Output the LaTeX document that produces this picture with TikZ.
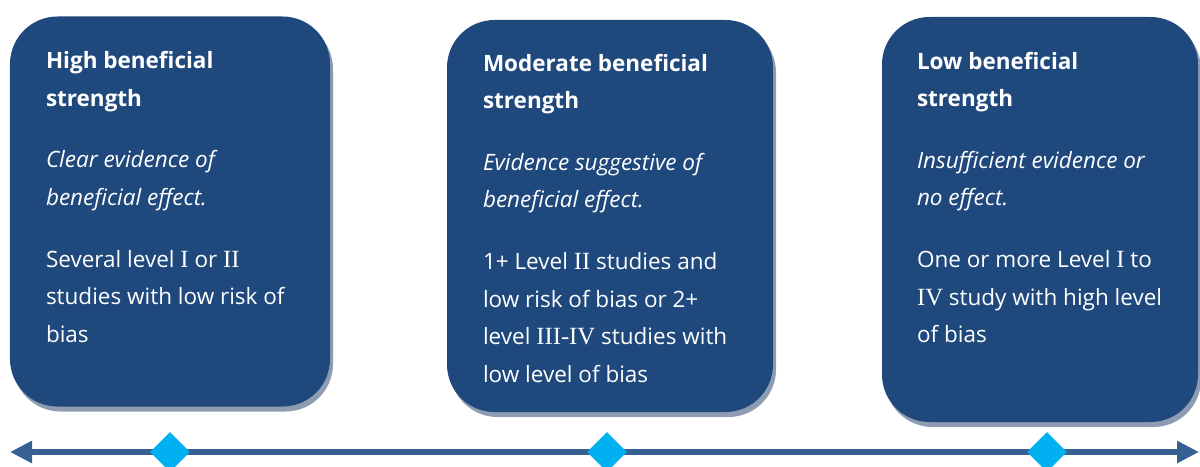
\documentclass[tikz,border=0pt]{standalone}
\usepackage{fontspec}
\setmainfont{Open Sans}
\newfontfamily\numfont[Scale=1.1]{Liberation Serif}
\usepackage{tikz}
\usetikzlibrary{shapes,arrows,positioning,shadows}
\usetikzlibrary{arrows.meta}
\definecolor{cardblue}{HTML}{1F497D}
\definecolor{cardshade}{HTML}{8D9CB1}
\definecolor{axisblue}{HTML}{366092}
\definecolor{marker}{HTML}{00B0F0}
\newcommand{\rnum}[1]{{\numfont #1}}
\tikzstyle{card} = [draw=none, fill=cardblue, rectangle, rounded corners=0.95cm,
  drop shadow={shadow xshift=0.06cm, shadow yshift=-0.1cm, fill=cardshade, opacity=1}]
\tikzstyle{cardtext} = [text=white, align=left, inner sep=0pt,
  font=\fontsize{12.8}{21.3}\selectfont]
\tikzstyle{line} = [draw=axisblue, line width=0.12cm,
  {Triangle[length=0.44cm,width=0.42cm]}-{Triangle[length=0.44cm,width=0.42cm]}]

\begin{document}
\begin{tikzpicture}

\tikzset{
    levelmark/.style={diamond, fill=marker, draw=none, minimum size=0.8cm, inner sep=0pt},
}

\useasboundingbox (0,0) rectangle (24,9.32);

  % the three cards
  \node [card, minimum width=6.4cm, minimum height=7.8cm] (high) at (3.4,5.09) {};
  \node [card, minimum width=6.52cm, minimum height=7.84cm] (moderate) at (12.2,5.0) {};
  \node [card, minimum width=6.32cm, minimum height=8.1cm] (low) at (20.8,4.93) {};

  \node [cardtext, below right=0.7cm and 0.72cm of high.north west] (hightext)
  {\textbf{High beneficial}\\ \textbf{strength}\\[13.9pt]
   \textit{Clear evidence of}\\ \textit{beneficial effect.}\\[13.9pt]
   Several level \rnum{I} or \rnum{II}\\ studies with low risk of\\ bias};

  \node [cardtext, below right=0.68cm and 0.72cm of moderate.north west] (moderatetext)
  {\textbf{Moderate beneficial}\\ \textbf{strength}\\[13.9pt]
   \textit{Evidence suggestive of}\\ \textit{beneficial effect.}\\[13.9pt]
   1+ Level \rnum{II} studies and\\ low risk of bias or 2+\\
   level \rnum{III-IV} studies with\\ low level of bias};

  \node [cardtext, below right=0.7cm and 0.7cm of low.north west] (lowtext)
  {\textbf{Low beneficial}\\ \textbf{strength}\\[13.9pt]
   \textit{Insufficient evidence or}\\ \textit{no effect.}\\[13.9pt]
   One or more Level \rnum{I} to\\ \rnum{IV} study with high level\\ of bias};

  % scale along the bottom
  \coordinate (axisL) at (0.2,0.28);
  \coordinate (axisR) at (23.98,0.28);
  \path [line] (axisL) -- (axisR);

  \node [levelmark] (mhigh) at (3.4,0.28) {};
  \node [levelmark] (mmoderate) at (12.14,0.28) {};
  \node [levelmark] (mlow) at (20.94,0.28) {};

\end{tikzpicture}
\end{document}
